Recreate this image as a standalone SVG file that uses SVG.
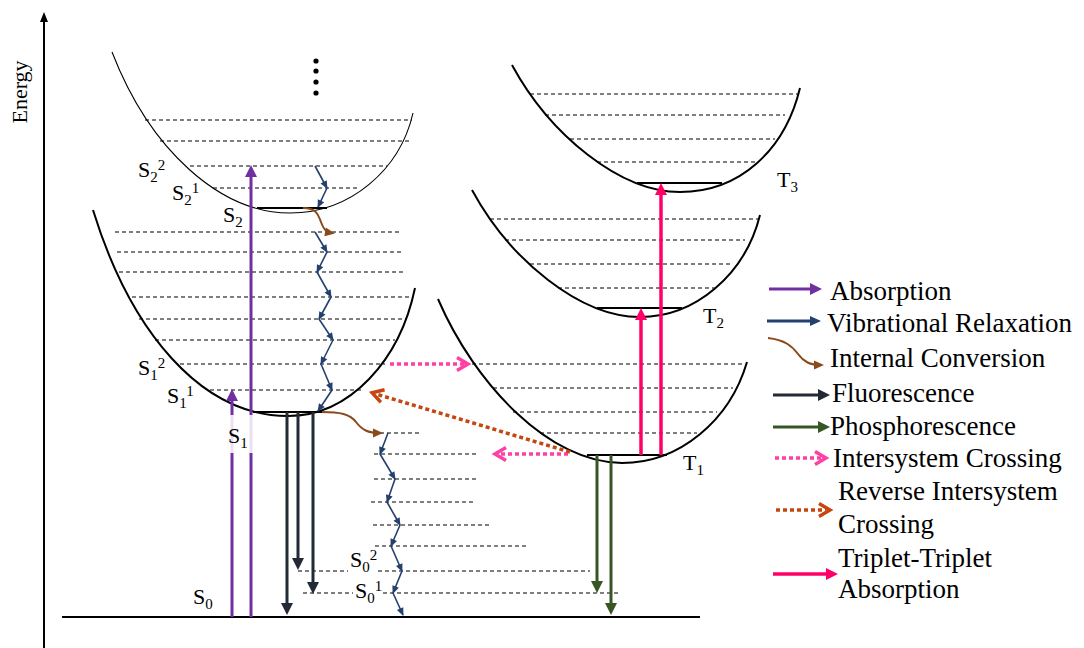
<svg xmlns="http://www.w3.org/2000/svg" width="1084" height="648" viewBox="0 0 1084 648" font-family="'Liberation Serif', 'Times New Roman', serif">
  <style>
    text { font-family: "Liberation Serif", "Times New Roman", serif; fill: #000; }
    .lbl { font-size: 22px; }
    .idx { font-size: 15px; }
    .leg { font-size: 27px; }
    .well { fill: none; stroke: #000; stroke-width: 2; }
    .well-thin { fill: none; stroke: #000; stroke-width: 1.1; }
    .lvl { stroke: #000; stroke-width: 1.2; stroke-dasharray: 4 3; }
    .ground { stroke: #000; stroke-width: 2; }
    .abs { stroke: #7030a0; stroke-width: 3; fill: none; marker-end: url(#hAbs); }
    .vr { stroke: #24406e; stroke-width: 1.6; fill: none; marker-end: url(#hVR); }
    .vr-leg { stroke: #24406e; stroke-width: 3; fill: none; marker-end: url(#hVRL); }
    .ic { stroke: #8a4a1c; stroke-width: 2; fill: none; marker-end: url(#hIC); }
    .fl { stroke: #222a35; stroke-width: 3; fill: none; marker-end: url(#hFl); }
    .ph { stroke: #375623; stroke-width: 3; fill: none; marker-end: url(#hPh); }
    .isc { stroke: #ff3fa4; stroke-width: 3.5; stroke-dasharray: 4 3; fill: none; marker-end: url(#cIsc); }
    .risc { stroke: #c5460f; stroke-width: 3.5; stroke-dasharray: 4 3; fill: none; marker-end: url(#cRisc); }
    .tta { stroke: #ff0066; stroke-width: 3.5; fill: none; marker-end: url(#hTta); }
  </style>
  <defs>
    <marker id="hAbs" markerUnits="userSpaceOnUse" markerWidth="14" markerHeight="12" refX="2" refY="6" orient="auto" overflow="visible"><path d="M0,0 L12,6 L0,12 Z" fill="#7030a0"/></marker>
    <marker id="hFl" markerUnits="userSpaceOnUse" markerWidth="14" markerHeight="12" refX="2" refY="6" orient="auto" overflow="visible"><path d="M0,0 L12,6 L0,12 Z" fill="#222a35"/></marker>
    <marker id="hPh" markerUnits="userSpaceOnUse" markerWidth="14" markerHeight="12" refX="2" refY="6" orient="auto" overflow="visible"><path d="M0,0 L12,6 L0,12 Z" fill="#375623"/></marker>
    <marker id="hTta" markerUnits="userSpaceOnUse" markerWidth="14" markerHeight="12" refX="2" refY="6" orient="auto" overflow="visible"><path d="M0,0 L12,6 L0,12 Z" fill="#ff0066"/></marker>
    <marker id="hVR" markerUnits="userSpaceOnUse" markerWidth="9" markerHeight="8" refX="7" refY="4" orient="auto" overflow="visible"><path d="M0,0.5 L8,4 L0,7.5 Z" fill="#24406e"/></marker>
    <marker id="hVRL" markerUnits="userSpaceOnUse" markerWidth="14" markerHeight="12" refX="2" refY="5" orient="auto" overflow="visible"><path d="M0,0 L11,5 L0,10 Z" fill="#24406e"/></marker>
    <marker id="hIC" markerUnits="userSpaceOnUse" markerWidth="10" markerHeight="9" refX="7" refY="4.5" orient="auto" overflow="visible"><path d="M0,0 L10,4.5 L0,9 Z" fill="#8a4a1c"/></marker>
    <marker id="cIsc" markerUnits="userSpaceOnUse" markerWidth="16" markerHeight="18" refX="8" refY="8" orient="auto" overflow="visible"><path d="M1,1.5 L12,8 L1,14.5" fill="none" stroke="#ff3fa4" stroke-width="3.5"/></marker>
    <marker id="cRisc" markerUnits="userSpaceOnUse" markerWidth="16" markerHeight="18" refX="8" refY="8" orient="auto" overflow="visible"><path d="M1,1.5 L12,8 L1,14.5" fill="none" stroke="#c5460f" stroke-width="3.5"/></marker>
  </defs>

  <rect width="1084" height="648" fill="#fff"/>

  <!-- energy axis and ground line -->
  <g id="axis">
    <line x1="44" y1="20" x2="44" y2="648" stroke="#000" stroke-width="2"/>
    <path d="M44,12 L40,22 L48,22 Z" fill="#000"/>
    <text class="lbl" transform="translate(27,92) rotate(-90)" text-anchor="middle">Energy</text>
    <line class="ground" x1="62" y1="617" x2="700" y2="617"/>
  </g>

  <!-- second excited singlet well -->
  <g id="S2">
    <path class="well-thin" d="M112,52 C150,150 220,213 290,213 C350,213 400,170 413,113"/>
    <line class="lvl" x1="145" y1="120" x2="412" y2="120"/>
    <line class="lvl" x1="160" y1="141" x2="410" y2="141"/>
    <line class="lvl" x1="190" y1="166" x2="387" y2="166"/>
    <line class="lvl" x1="213" y1="188" x2="360" y2="188"/>
    <line x1="257" y1="208" x2="327" y2="208" stroke="#000" stroke-width="2"/>
    <circle cx="316" cy="61" r="2.6"/>
    <circle cx="316" cy="71" r="2.6"/>
    <circle cx="316" cy="82" r="2.6"/>
    <circle cx="316" cy="93" r="2.6"/>
    <text class="lbl" x="138" y="177">S<tspan class="idx" dy="5">2</tspan><tspan class="idx" dy="-12">2</tspan></text>
    <text class="lbl" x="172" y="200">S<tspan class="idx" dy="5">2</tspan><tspan class="idx" dy="-12">1</tspan></text>
    <text class="lbl" x="223" y="222">S<tspan class="idx" dy="5">2</tspan></text>
  </g>

  <!-- first excited singlet well -->
  <g id="S1">
    <path class="well" d="M93,210 C130,330 200,416 288,416 C350,416 400,360 415,288"/>
    <line class="lvl" x1="115" y1="232" x2="402" y2="232"/>
    <line class="lvl" x1="117" y1="252" x2="404" y2="252"/>
    <line class="lvl" x1="119" y1="272" x2="406" y2="272"/>
    <line class="lvl" x1="132" y1="297" x2="411" y2="297"/>
    <line class="lvl" x1="139" y1="319" x2="406" y2="319"/>
    <line class="lvl" x1="155" y1="340" x2="395" y2="340"/>
    <line class="lvl" x1="180" y1="364" x2="385" y2="364"/>
    <line class="lvl" x1="210" y1="390" x2="363" y2="390"/>
    <line x1="253" y1="412" x2="323" y2="412" stroke="#000" stroke-width="2"/>
    <text class="lbl" x="138" y="375">S<tspan class="idx" dy="5">1</tspan><tspan class="idx" dy="-12">2</tspan></text>
    <text class="lbl" x="167" y="403">S<tspan class="idx" dy="5">1</tspan><tspan class="idx" dy="-12">1</tspan></text>
  </g>

  <!-- ground singlet ladder -->
  <g id="S0">
    <line class="lvl" x1="380" y1="433" x2="420" y2="433"/>
    <line class="lvl" x1="374" y1="454" x2="479" y2="454"/>
    <line class="lvl" x1="374" y1="479" x2="479" y2="479"/>
    <line class="lvl" x1="371" y1="502" x2="476" y2="502"/>
    <line class="lvl" x1="373" y1="525" x2="490" y2="525"/>
    <line class="lvl" x1="375" y1="546" x2="528" y2="546"/>
    <line class="lvl" x1="298" y1="571" x2="348" y2="571"/>
    <line class="lvl" x1="378" y1="571" x2="590" y2="571"/>
    <line class="lvl" x1="303" y1="593" x2="353" y2="593"/>
    <line class="lvl" x1="383" y1="593" x2="620" y2="593"/>
    <text class="lbl" x="193" y="604">S<tspan class="idx" dy="5">0</tspan></text>
    <text class="lbl" x="350" y="567">S<tspan class="idx" dy="5">0</tspan><tspan class="idx" dy="-12">2</tspan></text>
    <text class="lbl" x="355" y="598">S<tspan class="idx" dy="5">0</tspan><tspan class="idx" dy="-12">1</tspan></text>
  </g>

  <!-- triplet wells -->
  <g id="T3">
    <path class="well" d="M512,65 C550,135 620,192 680,192 C740,192 785,150 800,88"/>
    <line class="lvl" x1="530" y1="94" x2="798" y2="94"/>
    <line class="lvl" x1="545" y1="115" x2="785" y2="115"/>
    <line class="lvl" x1="570" y1="139" x2="775" y2="139"/>
    <line class="lvl" x1="597" y1="162" x2="757" y2="162"/>
    <line x1="637" y1="183" x2="722" y2="183" stroke="#000" stroke-width="2"/>
    <text class="lbl" x="777" y="187">T<tspan class="idx" dy="5">3</tspan></text>
  </g>

  <g id="T2">
    <path class="well" d="M472,190 C510,260 580,317 640,317 C695,317 745,275 760,215"/>
    <line class="lvl" x1="490" y1="219" x2="758" y2="219"/>
    <line class="lvl" x1="505" y1="240" x2="745" y2="240"/>
    <line class="lvl" x1="530" y1="264" x2="733" y2="264"/>
    <line class="lvl" x1="558" y1="288" x2="716" y2="288"/>
    <line x1="597" y1="308" x2="682" y2="308" stroke="#000" stroke-width="2"/>
    <text class="lbl" x="703" y="323">T<tspan class="idx" dy="5">2</tspan></text>
  </g>

  <g id="T1">
    <path class="well" d="M438,299 C475,385 550,463 622,463 C680,463 730,420 747,362"/>
    <line class="lvl" x1="472" y1="364" x2="745" y2="364"/>
    <line class="lvl" x1="493" y1="388" x2="733" y2="388"/>
    <line class="lvl" x1="513" y1="412" x2="717" y2="412"/>
    <line class="lvl" x1="540" y1="433" x2="697" y2="433"/>
    <line x1="587" y1="455" x2="667" y2="455" stroke="#000" stroke-width="2"/>
    <text class="lbl" x="683" y="470">T<tspan class="idx" dy="5">1</tspan></text>
  </g>

  <!-- transitions -->
  <g id="connectors">
    <!-- absorption -->
    <line class="abs" x1="232" y1="617" x2="232" y2="399"/>
    <line class="abs" x1="251" y1="617" x2="251" y2="175"/>
    <!-- fluorescence -->
    <line class="fl" x1="287" y1="412" x2="287" y2="605"/>
    <line class="fl" x1="298" y1="412" x2="298" y2="560"/>
    <line class="fl" x1="313" y1="412" x2="313" y2="584"/>
    <!-- phosphorescence -->
    <line class="ph" x1="597" y1="455" x2="597" y2="583"/>
    <line class="ph" x1="611" y1="455" x2="611" y2="605"/>
    <!-- triplet-triplet absorption -->
    <line class="tta" x1="641" y1="455" x2="641" y2="318"/>
    <line class="tta" x1="661" y1="455" x2="661" y2="193"/>
    <!-- vibrational relaxation in S2 -->
    <line class="vr" x1="315" y1="166" x2="327" y2="188"/>
    <line class="vr" x1="327" y1="188" x2="318" y2="207"/>
    <!-- vibrational relaxation in S1 -->
    <line class="vr" x1="315" y1="232" x2="327" y2="252"/>
    <line class="vr" x1="327" y1="252" x2="317" y2="272"/>
    <line class="vr" x1="317" y1="272" x2="331" y2="297"/>
    <line class="vr" x1="331" y1="297" x2="319" y2="319"/>
    <line class="vr" x1="319" y1="319" x2="333" y2="340"/>
    <line class="vr" x1="333" y1="340" x2="321" y2="364"/>
    <line class="vr" x1="321" y1="364" x2="332" y2="390"/>
    <line class="vr" x1="332" y1="390" x2="318" y2="411"/>
    <!-- vibrational relaxation in S0 -->
    <line class="vr" x1="388" y1="433" x2="380" y2="454"/>
    <line class="vr" x1="380" y1="454" x2="395" y2="479"/>
    <line class="vr" x1="395" y1="479" x2="387" y2="502"/>
    <line class="vr" x1="387" y1="502" x2="400" y2="525"/>
    <line class="vr" x1="400" y1="525" x2="391" y2="546"/>
    <line class="vr" x1="391" y1="546" x2="402" y2="571"/>
    <line class="vr" x1="402" y1="571" x2="393" y2="593"/>
    <line class="vr" x1="393" y1="593" x2="403" y2="615"/>
    <!-- internal conversion -->
    <path class="ic" d="M303,208 C316,208 318,214 321,222 C324,230 326,232 332,233"/>
    <path class="ic" d="M322,412 C340,412 350,414 356,422 C362,430 368,433 380,433"/>
    <!-- intersystem crossing -->
    <line class="isc" x1="390" y1="364" x2="464" y2="364"/>
    <line class="isc" x1="568" y1="454" x2="499" y2="454"/>
    <!-- reverse intersystem crossing -->
    <line class="risc" x1="570" y1="452" x2="376" y2="394"/>
  </g>

  <!-- S1 label sits on a pale box over the absorption lines -->
  <g id="S1-label">
    <rect x="226" y="415" width="31" height="38" fill="#fff" fill-opacity="0.85"/>
    <text class="lbl" x="228" y="443">S<tspan class="idx" dy="5">1</tspan></text>
  </g>

  <!-- key -->
  <g id="legend">
    <line class="abs" x1="769" y1="289" x2="812" y2="289"/>
    <text class="leg" x="830" y="300">Absorption</text>
    <line class="vr-leg" x1="767" y1="321" x2="812" y2="321"/>
    <text class="leg" x="827" y="332">Vibrational Relaxation</text>
    <path class="ic" d="M768,338 C785,340 792,346 798,354 C804,362 810,365 821,365" stroke-width="2.5"/>
    <text class="leg" x="830" y="367">Internal Conversion</text>
    <line class="fl" x1="773" y1="395" x2="820" y2="395"/>
    <text class="leg" x="832" y="402">Fluorescence</text>
    <line class="ph" x1="773" y1="427" x2="820" y2="427"/>
    <text class="leg" x="830" y="435">Phosphorescence</text>
    <line class="isc" x1="775" y1="458" x2="822" y2="458"/>
    <text class="leg" x="833" y="467">Intersystem Crossing</text>
    <line class="risc" x1="776" y1="510" x2="826" y2="510"/>
    <text class="leg" x="838" y="500">Reverse Intersystem</text>
    <text class="leg" x="838" y="533">Crossing</text>
    <line class="tta" x1="773" y1="574" x2="828" y2="574"/>
    <text class="leg" x="838" y="567">Triplet-Triplet</text>
    <text class="leg" x="838" y="598">Absorption</text>
  </g>
</svg>
